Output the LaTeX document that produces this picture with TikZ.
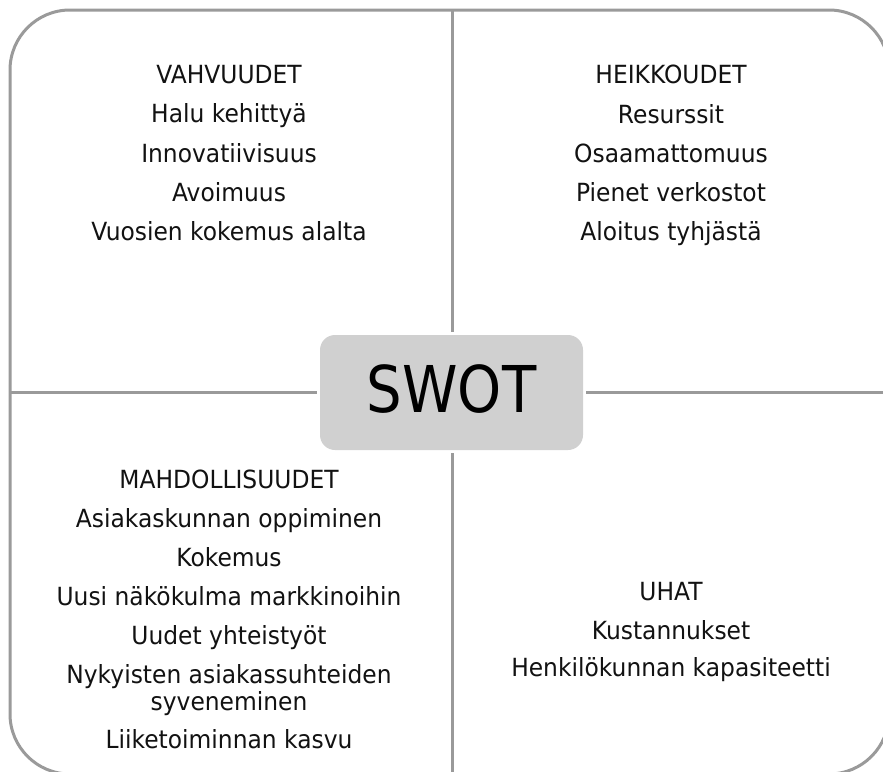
\documentclass[tikz,border=0pt]{standalone}
\usepackage{fontspec}
\setmainfont[FakeStretch=0.935]{DejaVu Sans}
\newfontfamily\swotfont[FakeStretch=0.87]{DejaVu Sans}
\definecolor{frame}{HTML}{9A9A9A}
\definecolor{boxfill}{HTML}{D0D0D0}
\tikzset{
  framestyle/.style={draw=frame, line width=3pt},
  quadtext/.style={anchor=north, align=center, inner sep=0pt,
    text=black!93, font=\fontsize{25}{27}\selectfont},
  swotbox/.style={fill=boxfill, rounded corners=15pt, minimum width=263pt,
    minimum height=115pt, inner sep=0pt, text depth=8pt,
    font=\swotfont\fontsize{64.5}{70}\selectfont},
}
\begin{document}
\begin{tikzpicture}[x=1pt,y=-1pt]
\useasboundingbox (0,0) rectangle (883,771);
\clip (0,0) rectangle (883,771);
\fill[white] (0,0) rectangle (883,771);
% outer frame
\draw[framestyle, rounded corners=60pt] (10,10) rectangle (889,774);
% centre box
\node[swotbox] (swot) at (451.5,392.5) {SWOT};
% dividers
\coordinate (top) at (452,10);
\coordinate (bot) at (452,774);
\coordinate (lft) at (10,392);
\coordinate (rgt) at (889,392);
\draw[framestyle, shorten >=3pt] (top) -- (top |- swot.north);
\draw[framestyle, shorten >=3pt] (bot) -- (bot |- swot.south);
\draw[framestyle, shorten >=3pt] (lft) -- (lft -| swot.west);
\draw[framestyle, shorten >=3pt] (rgt) -- (rgt -| swot.east);
% quadrant texts
\node[quadtext] (s) at (229,65) {VAHVUUDET\\[12.3pt] Halu kehittyä\\[12.3pt] Innovatiivisuus\\[12.3pt] Avoimuus\\[12.3pt] Vuosien kokemus alalta};
\node[quadtext] (w) at (671,65) {HEIKKOUDET\\[12.3pt] Resurssit\\[12.3pt] Osaamattomuus\\[12.3pt] Pienet verkostot\\[12.3pt] Aloitus tyhjästä};
\node[quadtext] (o) at (229,470) {MAHDOLLISUUDET\\[12pt] Asiakaskunnan oppiminen\\[12pt] Kokemus\\[12pt] Uusi näkökulma markkinoihin\\[12pt] Uudet yhteistyöt\\[12pt] Nykyisten asiakassuhteiden\\ syveneminen\\[11pt] Liiketoiminnan kasvu};
\node[quadtext] (t) at (671,582) {UHAT\\[12.5pt] Kustannukset\\[10pt] Henkilökunnan kapasiteetti};
\end{tikzpicture}
\end{document}
